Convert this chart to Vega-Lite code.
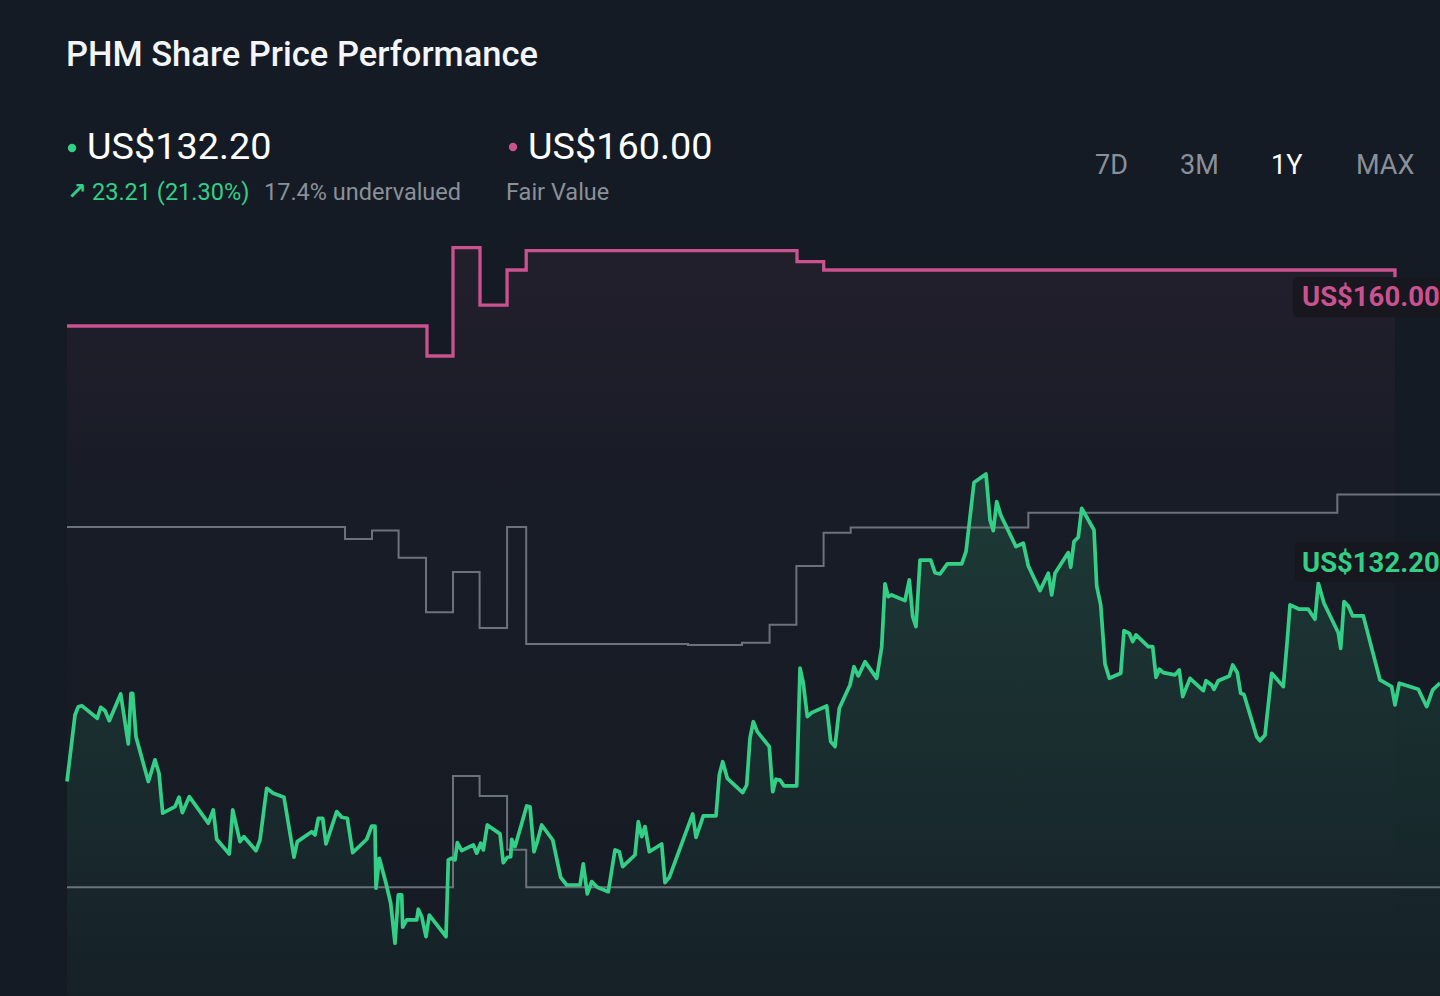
{
  "$schema": "https://vega.github.io/schema/vega-lite/v6.json",
  "width": 1440,
  "height": 996,
  "autosize": {"type": "none"},
  "padding": 0,
  "background": "#151b24",
  "config": {"view": {"stroke": null}, "font": "Roboto"},
  "datasets": {
    "price": [
      {"day":0,"price":125.57},{"day":2.13,"price":130.05},{"day":3.0,"price":130.61},{"day":3.9,"price":130.68},{"day":8.06,"price":129.83},{"day":8.96,"price":130.57},{"day":10.11,"price":130.34},{"day":11.25,"price":129.67},{"day":14.28,"price":131.47},{"day":16.3,"price":128.1},{"day":17.02,"price":131.51},{"day":17.47,"price":131.51},{"day":18.35,"price":128.59},{"day":21.62,"price":125.57},{"day":23.4,"price":127.03},{"day":24.47,"price":126.13},{"day":25.45,"price":123.44},{"day":28.72,"price":123.88},{"day":29.79,"price":124.52},{"day":30.67,"price":123.48},{"day":32.53,"price":124.56},{"day":37.58,"price":122.77},{"day":38.91,"price":123.66},{"day":39.81,"price":121.69},{"day":43.16,"price":120.7},{"day":44.07,"price":123.66},{"day":46.01,"price":121.53},{"day":47.07,"price":121.86},{"day":50.27,"price":120.92},{"day":51.33,"price":121.64},{"day":53.11,"price":125.12},{"day":54.87,"price":124.78},{"day":57.71,"price":124.52},{"day":60.37,"price":120.48},{"day":61.25,"price":121.53},{"day":65.08,"price":122.2},{"day":65.96,"price":121.98},{"day":66.84,"price":123.1},{"day":68.01,"price":123.1},{"day":68.88,"price":121.37},{"day":71.73,"price":123.55},{"day":73.06,"price":123.17},{"day":74.55,"price":123.1},{"day":75.98,"price":120.79},{"day":79.71,"price":121.69},{"day":81.04,"price":122.58},{"day":81.91,"price":122.58},{"day":82.18,"price":118.39},{"day":83.06,"price":120.41},{"day":84.84,"price":118.73},{"day":86.09,"price":117.38},{"day":87.23,"price":114.69},{"day":88.11,"price":117.94},{"day":89.02,"price":117.94},{"day":89.28,"price":115.77},{"day":90.35,"price":116.26},{"day":93.01,"price":116.26},{"day":93.43,"price":116.98},{"day":94.34,"price":116.48},{"day":95.48,"price":115.13},{"day":96.36,"price":116.59},{"day":100.8,"price":115.13},{"day":101.41,"price":120.3},{"day":102.31,"price":120.41},{"day":103.19,"price":120.3},{"day":103.8,"price":121.46},{"day":104.97,"price":120.92},{"day":108.06,"price":121.31},{"day":108.96,"price":120.75},{"day":110.03,"price":121.42},{"day":110.72,"price":120.97},{"day":111.78,"price":122.65},{"day":115.16,"price":122.05},{"day":116.04,"price":120.11},{"day":117.1,"price":120.48},{"day":118.01,"price":120.52},{"day":118.27,"price":121.69},{"day":119.15,"price":121.19},{"day":122.26,"price":123.93},{"day":123.14,"price":123.88},{"day":124.2,"price":120.85},{"day":125.08,"price":121.53},{"day":126.25,"price":122.65},{"day":129.18,"price":121.64},{"day":131.3,"price":119.13},{"day":132.9,"price":118.61},{"day":136.44,"price":118.61},{"day":137.31,"price":120.03},{"day":138.38,"price":118.01},{"day":139.55,"price":118.84},{"day":141.04,"price":118.46},{"day":143.96,"price":118.16},{"day":145.74,"price":120.97},{"day":146.89,"price":120.85},{"day":147.79,"price":119.85},{"day":151.06,"price":120.63},{"day":151.94,"price":122.87},{"day":152.85,"price":121.86},{"day":153.72,"price":122.54},{"day":154.87,"price":120.85},{"day":158.16,"price":121.37},{"day":159.04,"price":118.77},{"day":160.19,"price":119.13},{"day":166.41,"price":123.39},{"day":167.29,"price":121.82},{"day":169.23,"price":123.26},{"day":172.61,"price":123.26},{"day":173.48,"price":126.02},{"day":174.39,"price":126.91},{"day":175.61,"price":125.79},{"day":179.71,"price":124.83},{"day":180.77,"price":125.34},{"day":181.65,"price":128.49},{"day":182.53,"price":129.6},{"day":183.59,"price":128.93},{"day":186.78,"price":127.92},{"day":187.69,"price":124.89},{"day":188.56,"price":125.73},{"day":189.63,"price":125.68},{"day":190.69,"price":125.28},{"day":194.07,"price":125.28},{"day":194.95,"price":133.2},{"day":195.82,"price":132.19},{"day":196.89,"price":129.94},{"day":198.06,"price":130.21},{"day":202.05,"price":130.66},{"day":203.11,"price":128.26},{"day":204.26,"price":127.92},{"day":205.4,"price":130.5},{"day":208.24,"price":132.07},{"day":209.31,"price":133.3},{"day":210.45,"price":132.68},{"day":212.23,"price":133.64},{"day":215.35,"price":132.52},{"day":216.68,"price":134.65},{"day":217.55,"price":138.87},{"day":218.43,"price":138.01},{"day":219.33,"price":138.13},{"day":222.87,"price":137.75},{"day":224.02,"price":139.14},{"day":224.92,"price":136.67},{"day":225.8,"price":136.0},{"day":226.86,"price":140.48},{"day":229.71,"price":140.48},{"day":230.85,"price":139.63},{"day":232.18,"price":139.54},{"day":234.12,"price":140.22},{"day":237.95,"price":140.22},{"day":239.1,"price":141.04},{"day":241.22,"price":145.69},{"day":244.41,"price":146.27},{"day":245.48,"price":143.18},{"day":246.36,"price":142.46},{"day":247.26,"price":144.41},{"day":248.32,"price":143.51},{"day":252.39,"price":141.38},{"day":254.34,"price":141.61},{"day":255.67,"price":140.08},{"day":258.78,"price":138.42},{"day":260.99,"price":139.59},{"day":261.89,"price":138.13},{"day":262.77,"price":139.59},{"day":266.3,"price":140.98},{"day":266.94,"price":139.99},{"day":267.82,"price":141.72},{"day":268.96,"price":142.01},{"day":269.87,"price":143.96},{"day":273.14,"price":142.5},{"day":273.86,"price":138.73},{"day":274.92,"price":137.46},{"day":276.06,"price":133.49},{"day":277.21,"price":132.52},{"day":280.24,"price":132.86},{"day":281.12,"price":135.73},{"day":282.53,"price":135.55},{"day":283.43,"price":134.99},{"day":284.31,"price":135.44},{"day":287.58,"price":134.65},{"day":288.75,"price":134.65},{"day":289.63,"price":132.59},{"day":290.51,"price":133.13},{"day":291.57,"price":132.9},{"day":294.68,"price":132.75},{"day":295.82,"price":133.08},{"day":296.73,"price":131.29},{"day":298.67,"price":132.52},{"day":302.21,"price":131.69},{"day":302.93,"price":132.36},{"day":304.44,"price":132.07},{"day":305.05,"price":131.78},{"day":306.2,"price":132.36},{"day":309.12,"price":132.68},{"day":310.03,"price":133.42},{"day":311.25,"price":132.9},{"day":312.15,"price":131.51},{"day":313.03,"price":131.43},{"day":316.41,"price":128.59},{"day":317.29,"price":128.32},{"day":318.62,"price":128.71},{"day":320.4,"price":132.86},{"day":323.48,"price":131.96},{"day":324.55,"price":135.1},{"day":325.27,"price":137.46},{"day":327.74,"price":137.17},{"day":330.13,"price":137.17},{"day":331.91,"price":136.49},{"day":332.79,"price":138.92},{"day":334.31,"price":137.57},{"day":338.11,"price":135.59},{"day":338.75,"price":134.54},{"day":339.63,"price":137.68},{"day":340.77,"price":137.39},{"day":341.94,"price":136.72},{"day":344.76,"price":136.72},{"day":349.2,"price":132.41},{"day":352.31,"price":131.96},{"day":353.19,"price":130.73},{"day":354.33,"price":132.19},{"day":359.39,"price":131.78},{"day":361.62,"price":130.61},{"day":363.22,"price":131.74},{"day":365.16,"price":132.2}
    ],
    "fairValue": [
      {"day":0,"price":156.23},{"day":95.74,"price":154.21},{"day":102.66,"price":161.51},{"day":109.84,"price":157.64},{"day":117.04,"price":160.0},{"day":122.13,"price":161.3},{"day":194.15,"price":160.56},{"day":201.25,"price":160.0},{"day":353.19,"price":159.5}
    ],
    "bands": [
      {"series":"upper","day":0,"price":142.71},{"series":"upper","day":73.94,"price":141.9},{"series":"upper","day":81.12,"price":142.46},{"series":"upper","day":88.19,"price":140.64},{"series":"upper","day":95.48,"price":136.96},{"series":"upper","day":102.66,"price":139.68},{"series":"upper","day":109.73,"price":135.91},{"series":"upper","day":117.04,"price":142.71},{"series":"upper","day":122.13,"price":134.83},{"series":"upper","day":165.16,"price":134.76},{"series":"upper","day":179.52,"price":134.92},{"series":"upper","day":186.86,"price":136.13},{"series":"upper","day":193.99,"price":140.08},{"series":"upper","day":201.22,"price":142.32},{"series":"upper","day":208.43,"price":142.67},{"series":"upper","day":255.67,"price":143.67},{"series":"upper","day":337.85,"price":144.89},{"series":"upper","day":365.16,"price":144.89},
      {"series":"lower","day":0,"price":118.46},{"series":"lower","day":102.66,"price":125.95},{"series":"lower","day":109.73,"price":124.6},{"series":"lower","day":117.04,"price":120.99},{"series":"lower","day":122.13,"price":118.46},{"series":"lower","day":365.16,"price":118.46}
    ],
    "dots": [
      {"series":"price","day":1.33,"price":168.21},
      {"series":"fair","day":118.62,"price":168.28}
    ],
    "boxes": [
      {"tag":"fair","day":325.98,"dayEnd":372,"price":159.51,"priceBottom":156.82},
      {"tag":"price","day":326.6,"dayEnd":372,"price":141.7,"priceBottom":139.0}
    ],
    "labels": [
      {"role":"title","text":"PHM Share Price Performance","day":-0.27,"price":173.73},
      {"role":"headline","text":"US$132.20","day":5.32,"price":167.45},
      {"role":"headline","text":"US$160.00","day":122.61,"price":167.45},
      {"role":"arrow","text":"↗","day":0.1,"price":164.75},
      {"role":"change","text":"23.21 (21.30%)","day":6.65,"price":164.68},
      {"role":"muted","text":"17.4% undervalued","day":52.39,"price":164.68},
      {"role":"muted","text":"Fair Value","day":116.76,"price":164.68},
      {"role":"range","text":"7D","day":273.4,"price":166.49},
      {"role":"range","text":"3M","day":296.01,"price":166.49},
      {"role":"rangeActive","text":"1Y","day":320.21,"price":166.49},
      {"role":"range","text":"MAX","day":342.82,"price":166.49},
      {"role":"tagFair","text":"US$160.00","day":328.46,"price":157.58},
      {"role":"tagPrice","text":"US$132.20","day":328.46,"price":139.68}
    ]
  },
  "encoding": {
    "x": {"field": "day", "type": "quantitative", "scale": {"domain": [-17.82, 365.16], "nice": false, "zero": false}, "axis": null},
    "y": {"field": "price", "type": "quantitative", "scale": {"domain": [111.14, 178.17], "nice": false, "zero": false}, "axis": null}
  },
  "layer": [
    {
      "data": {"name": "fairValue"},
      "mark": {"type": "area", "interpolate": "step-after", "fill": {"gradient": "linear", "x1": 0, "x2": 0, "y1": 0, "y2": 1, "stops": [{"offset": 0, "color": "rgba(201,82,143,0.075)"}, {"offset": 0.3, "color": "rgba(201,82,143,0.02)"}, {"offset": 1, "color": "rgba(201,82,143,0.0)"}]}},
      "encoding": {"y2": {"datum": 111.14}}
    },
    {
      "data": {"name": "price"},
      "mark": {"type": "area", "fill": {"gradient": "linear", "x1": 0, "x2": 0, "y1": 0, "y2": 1, "stops": [{"offset": 0, "color": "rgba(52,207,134,0.17)"}, {"offset": 1, "color": "rgba(52,207,134,0.03)"}]}},
      "encoding": {"y2": {"datum": 111.14}}
    },
    {
      "data": {"name": "bands"},
      "mark": {"type": "line", "interpolate": "step-after", "stroke": "#6c727c", "strokeWidth": 2},
      "encoding": {"detail": {"field": "series", "type": "nominal"}}
    },
    {
      "data": {"name": "fairValue"},
      "mark": {"type": "line", "interpolate": "step-after", "stroke": "#c9528f", "strokeWidth": 3.3},
      "encoding": {}
    },
    {
      "data": {"name": "price"},
      "mark": {"type": "line", "stroke": "#34cf86", "strokeWidth": 3.7, "strokeJoin": "round"},
      "encoding": {}
    },
    {
      "data": {"name": "boxes"},
      "mark": {"type": "rect", "fill": "#17161f", "opacity": 0.85, "cornerRadius": 5},
      "encoding": {"x2": {"field": "dayEnd"}, "y2": {"field": "priceBottom"}}
    },
    {
      "data": {"name": "dots"},
      "mark": {"type": "point", "filled": true, "size": 70, "opacity": 1},
      "encoding": {"color": {"field": "series", "type": "nominal", "scale": {"domain": ["price", "fair"], "range": ["#34cf86", "#c9528f"]}, "legend": null}}
    },
    {
      "data": {"name": "labels"},
      "transform": [{"filter": "datum.role === 'title'"}],
      "mark": {"type": "text", "align": "left", "baseline": "alphabetic", "font": "Roboto", "fontWeight": 500, "fontSize": 34.5, "color": "#f3f5f7"},
      "encoding": {"text": {"field": "text"}}
    },
    {
      "data": {"name": "labels"},
      "transform": [{"filter": "datum.role === 'headline'"}],
      "mark": {"type": "text", "align": "left", "baseline": "alphabetic", "font": "Roboto", "fontWeight": 400, "fontSize": 37.8, "color": "#ffffff"},
      "encoding": {"text": {"field": "text"}}
    },
    {
      "data": {"name": "labels"},
      "transform": [{"filter": "datum.role === 'arrow'"}],
      "mark": {"type": "text", "align": "left", "baseline": "alphabetic", "font": "DejaVu Sans", "fontWeight": "bold", "fontSize": 23, "color": "#34cf86"},
      "encoding": {"text": {"field": "text"}}
    },
    {
      "data": {"name": "labels"},
      "transform": [{"filter": "datum.role === 'change'"}],
      "mark": {"type": "text", "align": "left", "baseline": "alphabetic", "font": "Roboto", "fontSize": 23.5, "color": "#34cf86"},
      "encoding": {"text": {"field": "text"}}
    },
    {
      "data": {"name": "labels"},
      "transform": [{"filter": "datum.role === 'muted'"}],
      "mark": {"type": "text", "align": "left", "baseline": "alphabetic", "font": "Roboto", "fontSize": 23.5, "color": "#8a9099"},
      "encoding": {"text": {"field": "text"}}
    },
    {
      "data": {"name": "labels"},
      "transform": [{"filter": "datum.role === 'range'"}],
      "mark": {"type": "text", "align": "left", "baseline": "alphabetic", "font": "Roboto", "fontSize": 27, "color": "#8a9099"},
      "encoding": {"text": {"field": "text"}}
    },
    {
      "data": {"name": "labels"},
      "transform": [{"filter": "datum.role === 'rangeActive'"}],
      "mark": {"type": "text", "align": "left", "baseline": "alphabetic", "font": "Roboto", "fontSize": 27, "color": "#ffffff"},
      "encoding": {"text": {"field": "text"}}
    },
    {
      "data": {"name": "labels"},
      "transform": [{"filter": "datum.role === 'tagFair'"}],
      "mark": {"type": "text", "align": "left", "baseline": "alphabetic", "font": "Roboto", "fontWeight": "bold", "fontSize": 27.5, "color": "#c9528f"},
      "encoding": {"text": {"field": "text"}}
    },
    {
      "data": {"name": "labels"},
      "transform": [{"filter": "datum.role === 'tagPrice'"}],
      "mark": {"type": "text", "align": "left", "baseline": "alphabetic", "font": "Roboto", "fontWeight": "bold", "fontSize": 27.5, "color": "#34cf86"},
      "encoding": {"text": {"field": "text"}}
    }
  ]
}
